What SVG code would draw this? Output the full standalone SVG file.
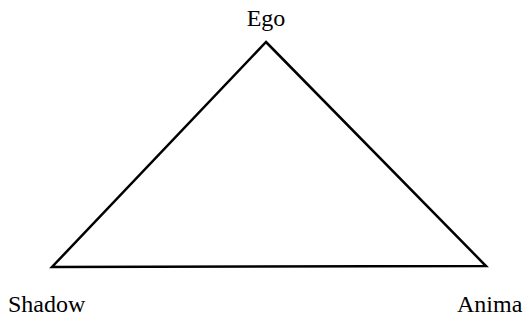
<svg xmlns="http://www.w3.org/2000/svg" width="525" height="320" viewBox="0 0 525 320">
<style>
.lbl{font-family:"Liberation Serif","Times New Roman",serif;font-size:24px;fill:#000}
.edge{fill:none;stroke:#000;stroke-width:2.5;stroke-linejoin:miter}
</style>
<rect width="525" height="320" fill="#fff"/>
<g id="connectors">
<path class="edge" d="M266,42 L486,266 L52,267 Z"/>
</g>
<g id="ego"><text class="lbl" x="266" y="26" text-anchor="middle">Ego</text></g>
<g id="shadow"><text class="lbl" x="8" y="312">Shadow</text></g>
<g id="anima"><text class="lbl" x="457" y="312">Anima</text></g>
</svg>
